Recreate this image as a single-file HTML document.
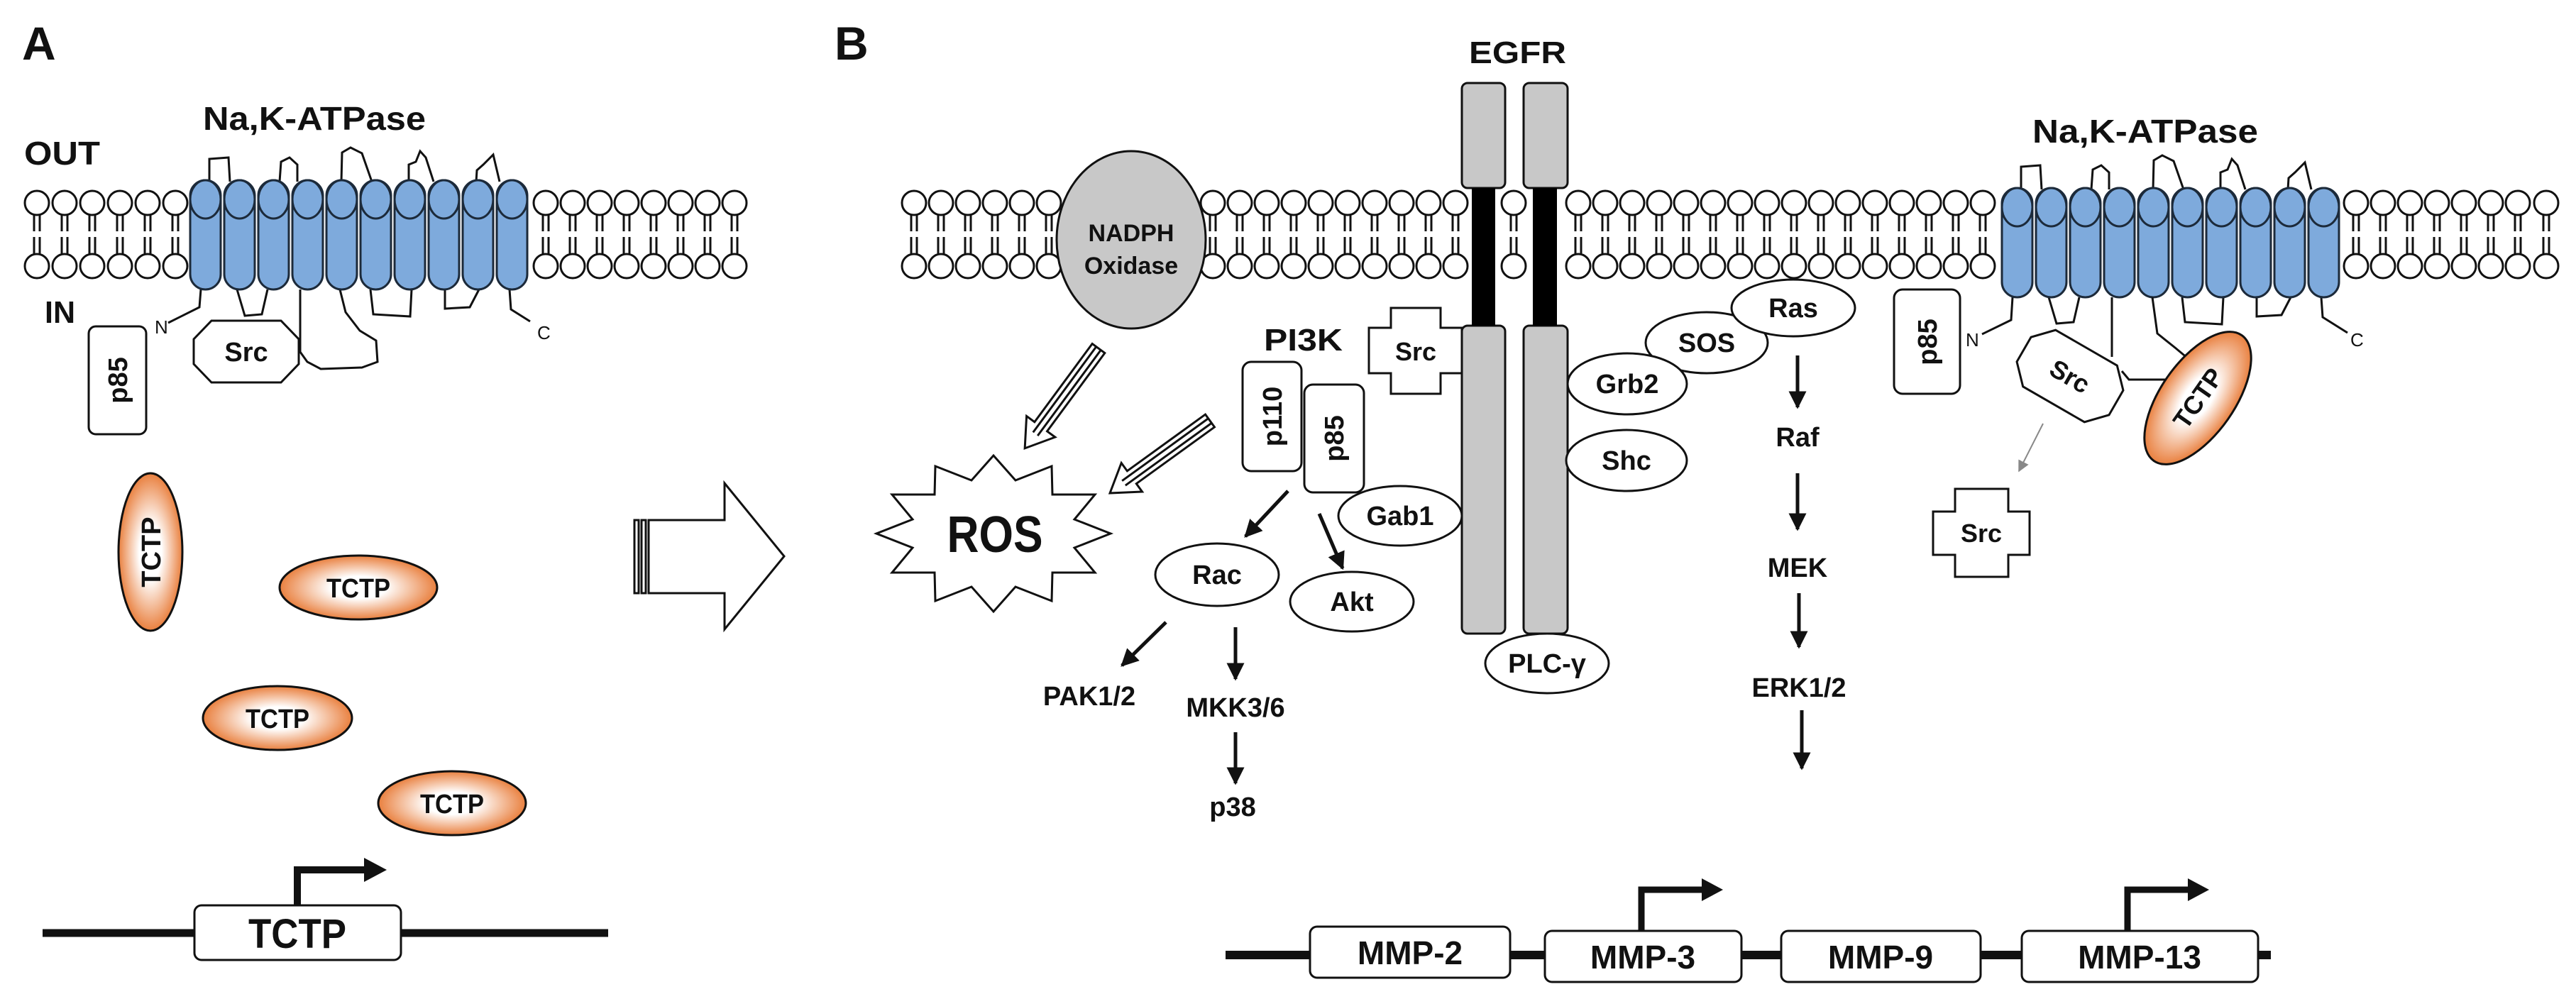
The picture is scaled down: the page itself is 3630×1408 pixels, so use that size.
<!DOCTYPE html>
<html><head><meta charset="utf-8"><style>
html,body{margin:0;padding:0;background:#fff}
svg{display:block}
text{font-family:"Liberation Sans",sans-serif;font-weight:bold;fill:#111}
</style></head><body>
<svg width="3630" height="1408" viewBox="0 0 3630 1408" xmlns="http://www.w3.org/2000/svg">
<defs>
<radialGradient id="tg" cx="50%" cy="50%" r="50%">
<stop offset="0.35" stop-color="#ffffff"/><stop offset="1" stop-color="#e9803f"/>
</radialGradient>
<g id="lip" stroke="#111" stroke-width="3" fill="#fff">
<line x1="-4" y1="300" x2="-4" y2="326"/><line x1="4" y1="300" x2="4" y2="326"/>
<line x1="-4" y1="334" x2="-4" y2="360"/><line x1="4" y1="334" x2="4" y2="360"/>
<circle cx="0" cy="286" r="17"/><circle cx="0" cy="375" r="17"/>
</g>
<g id="helix" stroke="#1c2a3a" stroke-width="3" fill="#7eaadc">
<rect x="0" y="254" width="43" height="154" rx="21.5"/>
<ellipse cx="21.5" cy="281" rx="21.5" ry="27"/>
</g>
<g id="pump">
<g fill="none" stroke="#111" stroke-width="3">
<path d="M295 256 L295 224 L322 222 L324 256"/>
<path d="M394 256 L396 228 L408 222 L419 232 L419 256"/>
<path d="M481 256 L482 215 L494 208 L510 216 L524 256"/>
<path d="M576 256 L576 232 L586 228 L592 213 L600 222 L611 256"/>
<path d="M671 256 L672 240 L681 232 L695 218 L704 256"/>
<path d="M283 408 L281 433 L237 455"/>
<path d="M334 408 L345 445 L369 443 L377 408"/>
<path d="M423 408 L423 496 L433 510 L452 520 L510 518 L532 510 L530 480 L507 466 L487 440 L479 408"/>
<path d="M522 408 L526 443 L578 446 L580 408"/>
<path d="M627 408 L627 435 L662 433 L675 408"/>
<path d="M718 408 L720 436 L747 453"/>
</g>
<use href="#helix" x="268"/><use href="#helix" x="316"/><use href="#helix" x="364"/><use href="#helix" x="412"/><use href="#helix" x="460"/>
<use href="#helix" x="508"/><use href="#helix" x="556"/><use href="#helix" x="604"/><use href="#helix" x="652"/><use href="#helix" x="700"/>
</g>
<g id="pumpB">
<g fill="none" stroke="#111" stroke-width="3">
<path d="M295 256 L295 224 L322 222 L324 256"/>
<path d="M394 256 L396 228 L408 222 L419 232 L419 256"/>
<path d="M481 256 L482 215 L494 208 L510 216 L524 256"/>
<path d="M576 256 L576 232 L586 228 L592 213 L600 222 L611 256"/>
<path d="M671 256 L672 240 L681 232 L695 218 L704 256"/>
<path d="M283 408 L281 440 L240 460"/>
<path d="M334 408 L345 445 L369 443 L377 408"/>
<path d="M522 408 L526 443 L578 446 L580 408"/>
<path d="M627 408 L627 435 L662 433 L675 408"/>
<path d="M718 408 L720 436 L755 458"/>
</g>
<use href="#helix" x="268"/><use href="#helix" x="316"/><use href="#helix" x="364"/><use href="#helix" x="412"/><use href="#helix" x="460"/>
<use href="#helix" x="508"/><use href="#helix" x="556"/><use href="#helix" x="604"/><use href="#helix" x="652"/><use href="#helix" x="700"/>
</g>
<marker id="ah" viewBox="0 0 10 10" refX="9" refY="5" markerWidth="5" markerHeight="5" orient="auto" markerUnits="strokeWidth">
<path d="M0 0 L10 5 L0 10 Z" fill="#111"/></marker>
<marker id="ahg" viewBox="0 0 10 10" refX="9" refY="5" markerWidth="8" markerHeight="8" orient="auto" markerUnits="strokeWidth">
<path d="M0 0 L10 5 L0 10 Z" fill="#888"/></marker>
</defs>

<!-- PANEL A -->
<text x="31" y="84" font-size="66">A</text>
<text x="286" y="183" font-size="46" textLength="314" lengthAdjust="spacingAndGlyphs">Na,K-ATPase</text>
<text x="34" y="232" font-size="46" textLength="107" lengthAdjust="spacingAndGlyphs">OUT</text>
<text x="63" y="455" font-size="44" textLength="43" lengthAdjust="spacingAndGlyphs">IN</text>

<use href="#lip" x="52"/><use href="#lip" x="91"/><use href="#lip" x="130"/><use href="#lip" x="169"/><use href="#lip" x="208"/><use href="#lip" x="247"/>
<use href="#lip" x="769"/><use href="#lip" x="807"/><use href="#lip" x="845"/><use href="#lip" x="883"/><use href="#lip" x="921"/><use href="#lip" x="959"/><use href="#lip" x="997"/><use href="#lip" x="1035"/>
<use href="#pump"/>
<text x="218" y="470" font-size="26" style="font-weight:normal">N</text>
<text x="757" y="478" font-size="26" style="font-weight:normal">C</text>

<rect x="125" y="460" width="81" height="152" rx="10" fill="#fff" stroke="#111" stroke-width="3"/>
<text transform="translate(179,536) rotate(-90)" text-anchor="middle" font-size="38">p85</text>
<polygon points="298,452 396,452 421,478 421,513 396,539 298,539 273,513 273,478" fill="#fff" stroke="#111" stroke-width="3"/>
<text x="347" y="509" text-anchor="middle" font-size="38">Src</text>

<g stroke="#111" stroke-width="3">
<ellipse cx="212" cy="778" rx="45" ry="111" fill="url(#tg)"/>
<ellipse cx="505" cy="828" rx="111" ry="45" fill="url(#tg)"/>
<ellipse cx="391" cy="1012" rx="105" ry="45" fill="url(#tg)"/>
<ellipse cx="637" cy="1132" rx="104" ry="45" fill="url(#tg)"/>
</g>
<text transform="translate(226,778) rotate(-90)" text-anchor="middle" font-size="38">TCTP</text>
<text x="505" y="842" text-anchor="middle" font-size="38" textLength="90" lengthAdjust="spacingAndGlyphs">TCTP</text>
<text x="391" y="1026" text-anchor="middle" font-size="38" textLength="90" lengthAdjust="spacingAndGlyphs">TCTP</text>
<text x="637" y="1146" text-anchor="middle" font-size="38" textLength="90" lengthAdjust="spacingAndGlyphs">TCTP</text>

<line x1="60" y1="1315" x2="857" y2="1315" stroke="#111" stroke-width="11"/>
<rect x="274" y="1276" width="291" height="77" rx="10" fill="#fff" stroke="#111" stroke-width="3"/>
<text x="419" y="1336" text-anchor="middle" font-size="58" textLength="138" lengthAdjust="spacingAndGlyphs">TCTP</text>
<path d="M419 1276 L419 1226 L518 1226" fill="none" stroke="#111" stroke-width="10"/>
<polygon points="513,1209 545,1226 513,1243" fill="#111"/>

<g fill="#fff" stroke="#111" stroke-width="3">
<rect x="894" y="733" width="6" height="103"/>
<rect x="904" y="733" width="6" height="103"/>
<polygon points="914,733 1021,733 1021,681 1105,784 1021,887 1021,836 914,836"/>
</g>

<!-- PANEL B -->
<text x="1176" y="84" font-size="66">B</text>
<text x="2070" y="89" font-size="44" textLength="137" lengthAdjust="spacingAndGlyphs">EGFR</text>
<text x="2864" y="201" font-size="46" textLength="318" lengthAdjust="spacingAndGlyphs">Na,K-ATPase</text>

<use href="#lip" x="1288"/><use href="#lip" x="1326"/><use href="#lip" x="1364"/><use href="#lip" x="1402"/><use href="#lip" x="1440"/><use href="#lip" x="1478"/>
<use href="#lip" x="1709"/><use href="#lip" x="1747"/><use href="#lip" x="1785"/><use href="#lip" x="1823"/><use href="#lip" x="1861"/><use href="#lip" x="1899"/><use href="#lip" x="1937"/><use href="#lip" x="1975"/><use href="#lip" x="2013"/><use href="#lip" x="2051"/>
<use href="#lip" x="2133"/>
<use href="#lip" x="2224"/><use href="#lip" x="2262"/><use href="#lip" x="2300"/><use href="#lip" x="2338"/><use href="#lip" x="2376"/><use href="#lip" x="2414"/><use href="#lip" x="2452"/><use href="#lip" x="2490"/><use href="#lip" x="2528"/><use href="#lip" x="2566"/><use href="#lip" x="2604"/><use href="#lip" x="2642"/><use href="#lip" x="2680"/><use href="#lip" x="2718"/><use href="#lip" x="2756"/><use href="#lip" x="2794"/>
<use href="#lip" x="3320"/><use href="#lip" x="3358"/><use href="#lip" x="3396"/><use href="#lip" x="3434"/><use href="#lip" x="3472"/><use href="#lip" x="3510"/><use href="#lip" x="3548"/><use href="#lip" x="3588"/>

<!-- NADPH -->
<ellipse cx="1594" cy="338" rx="105" ry="125" fill="#c8c8c8" stroke="#111" stroke-width="3"/>
<text x="1594" y="340" text-anchor="middle" font-size="34">NADPH</text>
<text x="1594" y="386" text-anchor="middle" font-size="34">Oxidase</text>

<!-- EGFR -->
<g stroke="#111" stroke-width="3" fill="#c8c8c8">
<rect x="2060" y="117" width="61" height="148" rx="8"/>
<rect x="2147" y="117" width="62" height="148" rx="8"/>
<rect x="2060" y="459" width="61" height="434" rx="8"/>
<rect x="2147" y="459" width="62" height="434" rx="8"/>
</g>
<rect x="2074" y="265" width="33" height="194" fill="#000"/>
<rect x="2160" y="265" width="34" height="194" fill="#000"/>

<!-- striped arrows -->
<g fill="#fff" stroke="#111" stroke-width="3">
<g transform="translate(1548,491) rotate(126.4)">
<polygon points="0,-11 137,-11 137,-25 175,0 137,25 137,11 0,11"/>
<line x1="0" y1="-4" x2="150" y2="-4"/><line x1="0" y1="4" x2="150" y2="4"/>
</g>
<g transform="translate(1705,593) rotate(144.1)">
<polygon points="0,-11 136,-11 136,-25 174,0 136,25 136,11 0,11"/>
<line x1="0" y1="-4" x2="150" y2="-4"/><line x1="0" y1="4" x2="150" y2="4"/>
</g>
</g>

<!-- ROS -->
<polygon points="1565,752 1514,772 1543,807 1483,807 1482,847 1431,827 1400,862 1369,827 1318,847 1317,807 1257,807 1286,772 1235,752 1286,732 1257,697 1317,697 1318,657 1369,677 1400,642 1431,677 1482,657 1483,697 1543,697 1514,732" fill="#fff" stroke="#111" stroke-width="3"/>
<text x="1402" y="778" text-anchor="middle" font-size="72" textLength="135" lengthAdjust="spacingAndGlyphs">ROS</text>

<!-- PI3K -->
<text x="1781" y="494" font-size="44" textLength="111" lengthAdjust="spacingAndGlyphs">PI3K</text>
<rect x="1751" y="510" width="83" height="154" rx="12" fill="#fff" stroke="#111" stroke-width="3"/>
<text transform="translate(1806,587) rotate(-90)" text-anchor="middle" font-size="38">p110</text>
<rect x="1838" y="542" width="84" height="152" rx="12" fill="#fff" stroke="#111" stroke-width="3"/>
<text transform="translate(1893,618) rotate(-90)" text-anchor="middle" font-size="38">p85</text>

<polygon points="1960,434 2030,434 2030,462 2060,462 2060,526 2030,526 2030,555 1960,555 1960,526 1929,526 1929,462 1960,462" fill="#fff" stroke="#111" stroke-width="3"/>
<text x="1995" y="508" text-anchor="middle" font-size="36">Src</text>

<g fill="#fff" stroke="#111" stroke-width="3">
<ellipse cx="1973" cy="727" rx="87" ry="42"/>
<ellipse cx="1715" cy="810" rx="87" ry="44"/>
<ellipse cx="1905" cy="848" rx="87" ry="42"/>
<ellipse cx="2180" cy="935" rx="87" ry="42"/>
<ellipse cx="2405" cy="483" rx="86" ry="43"/>
<ellipse cx="2527" cy="434" rx="87" ry="40"/>
<ellipse cx="2293" cy="541" rx="84" ry="43"/>
<ellipse cx="2292" cy="649" rx="85" ry="43"/>
</g>
<g font-size="38" text-anchor="middle">
<text x="1973" y="740">Gab1</text>
<text x="1715" y="823">Rac</text>
<text x="1905" y="861">Akt</text>
<text x="2180" y="948">PLC-γ</text>
<text x="2405" y="496">SOS</text>
<text x="2527" y="447">Ras</text>
<text x="2293" y="554">Grb2</text>
<text x="2292" y="662">Shc</text>
<text x="2533" y="629">Raf</text>
<text x="2533" y="813">MEK</text>
<text x="2535" y="982">ERK1/2</text>
<text x="1535" y="994">PAK1/2</text>
<text x="1741" y="1010">MKK3/6</text>
<text x="1737" y="1150">p38</text>
</g>

<g stroke="#111" stroke-width="5" marker-end="url(#ah)">
<line x1="1815" y1="692" x2="1755" y2="756"/>
<line x1="1859" y1="724" x2="1892" y2="801"/>
<line x1="1643" y1="877" x2="1581" y2="938"/>
<line x1="1741" y1="884" x2="1741" y2="957"/>
<line x1="1741" y1="1032" x2="1741" y2="1104"/>
<line x1="2533" y1="501" x2="2533" y2="574"/>
<line x1="2533" y1="667" x2="2533" y2="746"/>
<line x1="2535" y1="836" x2="2535" y2="912"/>
<line x1="2539" y1="1001" x2="2539" y2="1083"/>
</g>

<!-- right pump -->
<g transform="translate(2553,11)"><use href="#pumpB"/></g>
<g fill="none" stroke="#111" stroke-width="3">
<path d="M2976 419 L2976 503"/>
<path d="M2990 523 L3000 535 L3080 535"/>
<path d="M3033 419 L3040 470 L3065 490 L3089 510"/>
</g>
<text x="2770" y="488" font-size="26" style="font-weight:normal">N</text>
<text x="3312" y="488" font-size="26" style="font-weight:normal">C</text>
<rect x="2669" y="408" width="93" height="147" rx="12" fill="#fff" stroke="#111" stroke-width="3"/>
<text transform="translate(2729,482) rotate(-90)" text-anchor="middle" font-size="38">p85</text>
<g transform="translate(2917,530) rotate(30)">
<polygon points="-50,-46 50,-46 75,-20 75,20 50,46 -50,46 -75,20 -75,-20" fill="#fff" stroke="#111" stroke-width="3"/>
<text x="0" y="13" text-anchor="middle" font-size="36">Src</text>
</g>
<g transform="translate(3097,561) rotate(-55)">
<ellipse cx="0" cy="0" rx="108" ry="52" fill="url(#tg)" stroke="#111" stroke-width="3"/>
<text x="0" y="13" text-anchor="middle" font-size="36">TCTP</text>
</g>
<line x1="2879" y1="597" x2="2845" y2="664" stroke="#888" stroke-width="2" marker-end="url(#ahg)"/>
<polygon points="2755,689 2830,689 2830,721 2860,721 2860,782 2830,782 2830,813 2755,813 2755,782 2724,782 2724,721 2755,721" fill="#fff" stroke="#111" stroke-width="3"/>
<text x="2792" y="764" text-anchor="middle" font-size="36">Src</text>

<!-- MMP genes -->
<line x1="1727" y1="1346" x2="3200" y2="1346" stroke="#111" stroke-width="12"/>
<g fill="#fff" stroke="#111" stroke-width="3">
<rect x="1846" y="1306" width="282" height="72" rx="10"/>
<rect x="2177" y="1312" width="277" height="72" rx="10"/>
<rect x="2510" y="1312" width="281" height="72" rx="10"/>
<rect x="2849" y="1312" width="333" height="72" rx="10"/>
</g>
<g font-size="46" text-anchor="middle">
<text x="1987" y="1359">MMP-2</text>
<text x="2315" y="1365">MMP-3</text>
<text x="2650" y="1365">MMP-9</text>
<text x="3015" y="1365">MMP-13</text>
</g>
<path d="M2313 1312 L2313 1254 L2400 1254" fill="none" stroke="#111" stroke-width="9"/>
<polygon points="2398,1238 2428,1254 2398,1270" fill="#111"/>
<path d="M2998 1312 L2998 1254 L3085 1254" fill="none" stroke="#111" stroke-width="9"/>
<polygon points="3083,1238 3113,1254 3083,1270" fill="#111"/>
</svg>
</body></html>
